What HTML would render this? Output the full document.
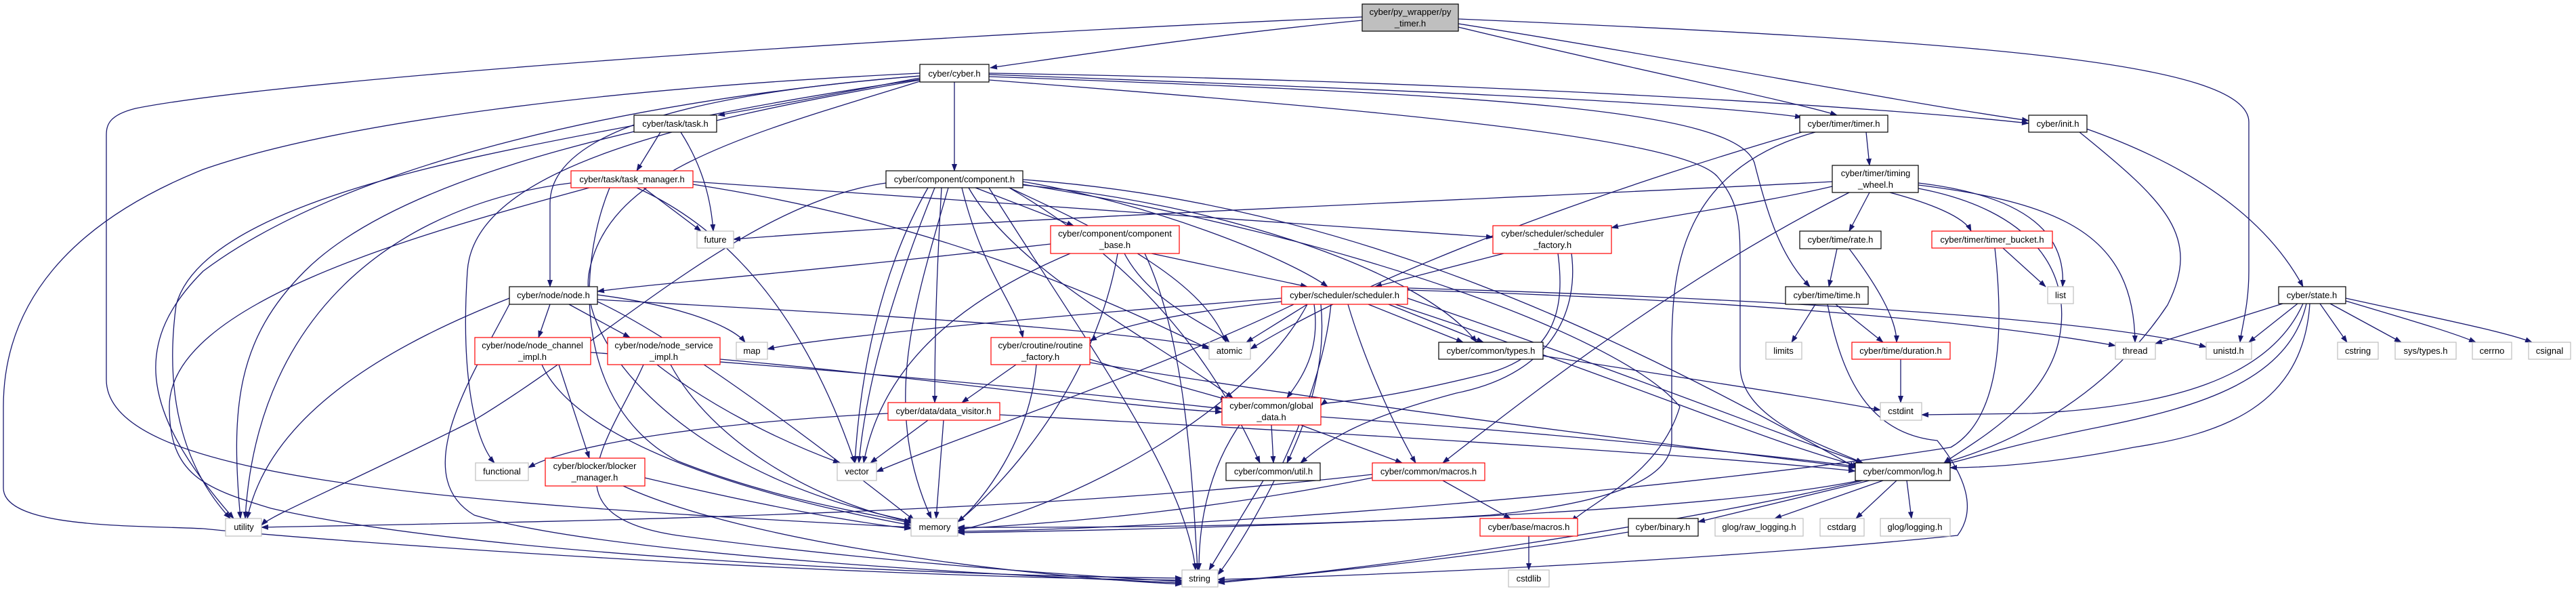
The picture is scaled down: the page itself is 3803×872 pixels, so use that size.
<!DOCTYPE html>
<html><head><meta charset="utf-8"><style>
html,body{margin:0;padding:0;background:#fff;}
svg{display:block;}
text{font-family:"Liberation Sans",sans-serif;font-size:13px;fill:#000;text-anchor:middle;}
.e{fill:none;stroke:#191970;stroke-width:1.3;marker-end:url(#a);}
.p{fill:#fff;stroke:#000;stroke-width:1.2;}
.r{fill:#fff;stroke:#ff0000;stroke-width:1.2;}
.g{fill:#fff;stroke:#bfbfbf;stroke-width:1.2;}
</style></head><body>
<svg width="3803" height="872" viewBox="0 0 3803 872" xmlns="http://www.w3.org/2000/svg">
<defs><marker id="a" markerUnits="userSpaceOnUse" markerWidth="11" markerHeight="8" refX="10" refY="4" orient="auto"><path d="M0,0 L11,4 L0,8 z" fill="#191970"/></marker></defs>
<g>
<path class="e" d="M2011,30 C1800,50 1600,80 1462,100"/>
<path class="e" d="M2153,40 C2400,100 2650,150 2712,170"/>
<path class="e" d="M2153,35 C2500,90 2800,150 2995,178"/>
<path class="e" d="M2153,28 C2900,60 3320,90 3320,180 L3320,400 C3320,450 3310,480 3307,505"/>
<path class="e" d="M2011,25 C1200,60 400,120 200,160 C160,170 157,185 157,200 L157,560 C157,700 600,740 1345,778"/>
<path class="e" d="M1358,108 C900,130 500,180 300,250 C100,330 5,450 5,600 L5,720 C5,780 200,775 300,780 C500,800 1200,850 1745,856"/>
<path class="e" d="M1358,115 C1250,135 1150,155 1060,170"/>
<path class="e" d="M1409,121 L1409,252"/>
<path class="e" d="M1460,110 C2000,130 2500,150 2660,173"/>
<path class="e" d="M1460,108 C2200,120 2800,160 2995,182"/>
<path class="e" d="M1460,113 C2200,140 2560,160 2590,240 C2610,320 2630,380 2672,423"/>
<path class="e" d="M1460,118 C2000,160 2480,200 2535,260 C2569,300 2569,330 2569,400 L2569,540 C2569,620 2700,660 2750,683"/>
<path class="e" d="M1358,112 C1000,140 812,200 812,300 L812,423"/>
<path class="e" d="M1358,112 C900,150 500,250 300,400 C200,500 200,600 345,765"/>
<path class="e" d="M1358,117 C1000,170 600,250 450,400 C350,500 340,600 355,765"/>
<path class="e" d="M1358,118 C1000,180 700,250 690,400 C680,550 700,650 730,683"/>
<path class="e" d="M1358,120 C1100,200 900,250 870,400 C850,500 1000,700 1350,770"/>
<path class="e" d="M975,195 L940,252"/>
<path class="e" d="M1005,195 C1040,250 1050,300 1053,341"/>
<path class="e" d="M936,185 C700,230 300,300 260,450 C240,600 280,700 340,765"/>
<path class="e" d="M950,277 L1035,341"/>
<path class="e" d="M1023,268 C1500,300 1900,330 2204,350"/>
<path class="e" d="M843,270 C600,300 380,450 362,765"/>
<path class="e" d="M870,277 C600,350 250,450 250,600 C250,700 300,720 400,750 C700,820 1400,850 1745,853"/>
<path class="e" d="M900,277 C850,400 850,600 1000,680 C1150,740 1300,760 1345,772"/>
<path class="e" d="M940,277 C1100,350 1200,500 1262,683"/>
<path class="e" d="M1023,272 C1400,330 1650,450 1785,515"/>
<path class="e" d="M1440,277 L1585,333"/>
<path class="e" d="M1510,268 C1700,300 1900,380 1960,423"/>
<path class="e" d="M1420,277 C1450,400 1500,450 1510,498"/>
<path class="e" d="M1390,277 C1380,450 1380,550 1380,594"/>
<path class="e" d="M1430,277 C1500,400 1700,500 1820,587"/>
<path class="e" d="M1380,277 C1330,400 1280,550 1268,683"/>
<path class="e" d="M1370,277 C1300,400 1270,550 1262,683"/>
<path class="e" d="M1400,277 C1350,450 1300,600 1375,765"/>
<path class="e" d="M1308,270 C1100,300 900,500 700,620 C500,720 400,760 386,775"/>
<path class="e" d="M1510,273 C1800,300 2100,400 2180,505"/>
<path class="e" d="M1510,265 C2000,300 2400,500 2740,690"/>
<path class="e" d="M1490,277 C1700,400 1800,550 1860,683"/>
<path class="e" d="M1460,277 C1600,500 1750,700 1765,841"/>
<path class="e" d="M1490,277 C1650,350 1780,420 1810,505"/>
<path class="e" d="M1510,272 C2000,350 2400,500 2480,600 C2450,700 2350,740 2320,770"/>
<path class="e" d="M1551,360 C1200,400 950,420 882,430"/>
<path class="e" d="M1700,374 L1930,423"/>
<path class="e" d="M1580,374 C1400,450 1300,550 1275,683"/>
<path class="e" d="M1650,374 C1620,550 1500,700 1414,770"/>
<path class="e" d="M1660,374 C1700,450 1790,480 1815,505"/>
<path class="e" d="M1690,374 C1750,500 1760,700 1768,841"/>
<path class="e" d="M2755,195 L2760,244"/>
<path class="e" d="M2660,195 C2300,300 2000,420 1846,515"/>
<path class="e" d="M2680,195 C2480,250 2470,400 2468,500 L2468,650 C2468,700 2400,740 2200,760 C1900,780 1500,778 1414,778"/>
<path class="e" d="M2705,268 C2300,290 1500,320 1083,353"/>
<path class="e" d="M2705,275 C2600,300 2450,320 2379,336"/>
<path class="e" d="M2760,284 L2730,341"/>
<path class="e" d="M2790,284 C2850,300 2900,320 2910,341"/>
<path class="e" d="M2832,270 C3000,290 3050,350 3045,423"/>
<path class="e" d="M2832,273 C3050,300 3150,350 3152,505"/>
<path class="e" d="M2832,278 C3000,310 3060,400 3040,500 C3020,600 2900,660 2870,683"/>
<path class="e" d="M2730,284 C2500,400 2300,550 2130,683"/>
<path class="e" d="M2220,374 L2030,423"/>
<path class="e" d="M2300,374 C2310,450 2300,520 2200,550 C2000,600 1960,590 1950,598"/>
<path class="e" d="M2320,374 C2330,450 2300,550 2150,580 C2000,620 1960,650 1920,683"/>
<path class="e" d="M1892,440 C1500,470 1200,500 1133,515"/>
<path class="e" d="M1930,449 L1840,505"/>
<path class="e" d="M1892,445 C1750,460 1650,480 1609,503"/>
<path class="e" d="M2020,449 L2160,505"/>
<path class="e" d="M2050,449 L2190,505"/>
<path class="e" d="M1940,449 C1950,520 1920,560 1900,587"/>
<path class="e" d="M1990,449 C2020,550 2070,650 2090,683"/>
<path class="e" d="M2078,440 C2400,550 2650,650 2750,683"/>
<path class="e" d="M2060,449 C2400,560 2600,650 2745,688"/>
<path class="e" d="M1930,449 C1850,600 1600,740 1414,783"/>
<path class="e" d="M1965,449 C1950,600 1850,780 1798,848"/>
<path class="e" d="M1910,449 C1700,550 1400,650 1294,696"/>
<path class="e" d="M2078,428 C2500,440 2900,470 3123,510"/>
<path class="e" d="M2078,425 C2600,440 3100,470 3257,512"/>
<path class="e" d="M1950,449 C1960,550 1920,640 1900,683"/>
<path class="e" d="M812,449 L795,498"/>
<path class="e" d="M840,449 L930,498"/>
<path class="e" d="M882,435 C1000,450 1080,480 1100,505"/>
<path class="e" d="M752,440 C600,500 400,600 365,765"/>
<path class="e" d="M882,445 C1000,500 1200,650 1350,768"/>
<path class="e" d="M752,449 C700,550 600,700 700,760 C900,820 1500,850 1745,860"/>
<path class="e" d="M882,442 C1200,460 1600,480 1785,512"/>
<path class="e" d="M825,538 L870,676"/>
<path class="e" d="M800,538 C850,650 1100,730 1345,775"/>
<path class="e" d="M872,520 C1300,550 1600,580 1804,603"/>
<path class="e" d="M970,538 C1050,600 1150,650 1240,683"/>
<path class="e" d="M990,538 C1050,650 1200,740 1345,770"/>
<path class="e" d="M950,538 C900,650 800,760 1000,790 C1300,830 1600,850 1745,858"/>
<path class="e" d="M1063,530 C1400,560 1650,600 1804,608"/>
<path class="e" d="M1500,538 L1420,594"/>
<path class="e" d="M1609,530 C1700,560 1780,580 1812,590"/>
<path class="e" d="M1530,538 C1520,650 1450,740 1414,770"/>
<path class="e" d="M1609,535 C2000,600 2500,660 2739,690"/>
<path class="e" d="M1370,620 L1285,683"/>
<path class="e" d="M1393,620 L1382,765"/>
<path class="e" d="M1311,610 C1100,620 850,650 780,690"/>
<path class="e" d="M1476,612 C2000,640 2500,670 2739,695"/>
<path class="e" d="M1877,627 L1880,683"/>
<path class="e" d="M1920,627 L2070,683"/>
<path class="e" d="M1830,627 C1780,700 1770,780 1770,841"/>
<path class="e" d="M1950,615 C2300,640 2600,670 2739,688"/>
<path class="e" d="M1865,709 L1785,841"/>
<path class="e" d="M2130,709 L2230,765"/>
<path class="e" d="M2026,700 C1500,760 800,770 386,778"/>
<path class="e" d="M2026,705 C1800,750 1600,770 1414,780"/>
<path class="e" d="M2257,791 L2257,841"/>
<path class="e" d="M2278,525 C2500,560 2700,590 2776,605"/>
<path class="e" d="M2680,449 L2645,505"/>
<path class="e" d="M2710,449 L2780,505"/>
<path class="e" d="M2712,367 L2700,423"/>
<path class="e" d="M2730,367 C2770,420 2800,470 2800,505"/>
<path class="e" d="M2698,449 C2720,560 2760,640 2860,650 C2900,700 2920,750 2890,790 C2500,830 2000,850 1798,855"/>
<path class="e" d="M2806,530 L2806,594"/>
<path class="e" d="M2957,366 L3020,423"/>
<path class="e" d="M2945,366 C2960,500 2950,620 2880,660 C2500,720 1800,780 1414,784"/>
<path class="e" d="M3080,190 C3250,250 3350,330 3400,423"/>
<path class="e" d="M3070,195 C3200,300 3250,350 3200,450 C3100,600 2950,660 2870,683"/>
<path class="e" d="M3370,448 L3182,507"/>
<path class="e" d="M3392,448 L3320,505"/>
<path class="e" d="M3425,448 L3465,505"/>
<path class="e" d="M3440,448 L3545,505"/>
<path class="e" d="M3463,444 C3550,470 3620,490 3655,505"/>
<path class="e" d="M3463,440 C3600,470 3700,490 3738,505"/>
<path class="e" d="M3405,448 C3380,560 3250,600 3100,630 C2950,660 2900,680 2870,685"/>
<path class="e" d="M3410,448 C3400,600 3280,640 3150,660 C3000,690 2900,690 2879,690"/>
<path class="e" d="M3400,448 C3350,560 3200,600 3000,610 L2837,612"/>
<path class="e" d="M2760,709 L2507,770"/>
<path class="e" d="M2780,709 L2620,765"/>
<path class="e" d="M2800,709 L2740,765"/>
<path class="e" d="M2815,709 L2822,765"/>
<path class="e" d="M2745,709 C2500,760 1800,780 1414,786"/>
<path class="e" d="M2750,709 C2500,770 2000,845 1798,858"/>
<path class="e" d="M2404,785 C2200,820 1900,850 1798,860"/>
<path class="e" d="M952,705 C1100,740 1250,770 1345,780"/>
<path class="e" d="M920,717 C1100,800 1500,850 1745,862"/>
</g>
<g>
<rect x="2011" y="6" width="142" height="40" fill="#bfbfbf" stroke="#000" stroke-width="1.2"/><text x="2082" y="22">cyber/py_wrapper/py</text><text x="2082" y="39">_timer.h</text>
<rect class="p" x="1358" y="95" width="102" height="26"/><text x="1409" y="113">cyber/cyber.h</text>
<rect class="p" x="936" y="170" width="122" height="25"/><text x="997" y="187">cyber/task/task.h</text>
<rect class="r" x="843" y="252" width="180" height="25"/><text x="933" y="269">cyber/task/task_manager.h</text>
<rect class="g" x="1029" y="341" width="54" height="25"/><text x="1056" y="358">future</text>
<rect class="p" x="1308" y="252" width="202" height="25"/><text x="1409" y="269">cyber/component/component.h</text>
<rect class="r" x="1551" y="333" width="190" height="41"/><text x="1646" y="349">cyber/component/component</text><text x="1646" y="366">_base.h</text>
<rect class="p" x="2657" y="170" width="130" height="25"/><text x="2722" y="187">cyber/timer/timer.h</text>
<rect class="p" x="2705" y="244" width="127" height="40"/><text x="2769" y="260">cyber/timer/timing</text><text x="2769" y="277">_wheel.h</text>
<rect class="r" x="2204" y="333" width="175" height="41"/><text x="2292" y="349">cyber/scheduler/scheduler</text><text x="2292" y="366">_factory.h</text>
<rect class="p" x="2657" y="341" width="120" height="26"/><text x="2717" y="358">cyber/time/rate.h</text>
<rect class="p" x="2636" y="423" width="122" height="26"/><text x="2697" y="440">cyber/time/time.h</text>
<rect class="r" x="1892" y="423" width="186" height="26"/><text x="1985" y="440">cyber/scheduler/scheduler.h</text>
<rect class="p" x="2995" y="170" width="86" height="25"/><text x="3038" y="187">cyber/init.h</text>
<rect class="r" x="2852" y="341" width="178" height="25"/><text x="2941" y="358">cyber/timer/timer_bucket.h</text>
<rect class="g" x="3023" y="423" width="38" height="25"/><text x="3042" y="440">list</text>
<rect class="p" x="3364" y="423" width="99" height="25"/><text x="3413" y="440">cyber/state.h</text>
<rect class="p" x="752" y="423" width="130" height="26"/><text x="817" y="440">cyber/node/node.h</text>
<rect class="r" x="701" y="498" width="171" height="40"/><text x="786" y="514">cyber/node/node_channel</text><text x="786" y="531">_impl.h</text>
<rect class="r" x="897" y="498" width="166" height="40"/><text x="980" y="514">cyber/node/node_service</text><text x="980" y="531">_impl.h</text>
<rect class="g" x="702" y="683" width="78" height="26"/><text x="741" y="700">functional</text>
<rect class="r" x="805" y="676" width="147" height="41"/><text x="878" y="692">cyber/blocker/blocker</text><text x="878" y="709">_manager.h</text>
<rect class="g" x="333" y="765" width="53" height="26"/><text x="360" y="782">utility</text>
<rect class="g" x="1087" y="505" width="46" height="25"/><text x="1110" y="522">map</text>
<rect class="r" x="1463" y="498" width="146" height="40"/><text x="1536" y="514">cyber/croutine/routine</text><text x="1536" y="531">_factory.h</text>
<rect class="g" x="1785" y="505" width="61" height="25"/><text x="1815" y="522">atomic</text>
<rect class="r" x="1311" y="594" width="165" height="26"/><text x="1393" y="611">cyber/data/data_visitor.h</text>
<rect class="r" x="1804" y="587" width="146" height="40"/><text x="1877" y="603">cyber/common/global</text><text x="1877" y="620">_data.h</text>
<rect class="g" x="1236" y="683" width="58" height="26"/><text x="1265" y="700">vector</text>
<rect class="p" x="1810" y="683" width="139" height="26"/><text x="1880" y="700">cyber/common/util.h</text>
<rect class="g" x="1345" y="765" width="69" height="26"/><text x="1380" y="782">memory</text>
<rect class="g" x="1745" y="841" width="53" height="25"/><text x="1771" y="858">string</text>
<rect class="p" x="2124" y="505" width="154" height="25"/><text x="2201" y="522">cyber/common/types.h</text>
<rect class="g" x="2607" y="505" width="53" height="25"/><text x="2633" y="522">limits</text>
<rect class="r" x="2734" y="505" width="145" height="25"/><text x="2806" y="522">cyber/time/duration.h</text>
<rect class="g" x="2776" y="594" width="61" height="26"/><text x="2806" y="611">cstdint</text>
<rect class="r" x="2026" y="683" width="166" height="26"/><text x="2109" y="700">cyber/common/macros.h</text>
<rect class="p" x="2739" y="683" width="140" height="26"/><text x="2809" y="700">cyber/common/log.h</text>
<rect class="r" x="2185" y="765" width="144" height="26"/><text x="2257" y="782">cyber/base/macros.h</text>
<rect class="p" x="2404" y="765" width="103" height="26"/><text x="2455" y="782">cyber/binary.h</text>
<rect class="g" x="2532" y="765" width="130" height="26"/><text x="2597" y="782">glog/raw_logging.h</text>
<rect class="g" x="2687" y="765" width="65" height="26"/><text x="2719" y="782">cstdarg</text>
<rect class="g" x="2776" y="765" width="103" height="26"/><text x="2827" y="782">glog/logging.h</text>
<rect class="g" x="2227" y="841" width="60" height="25"/><text x="2257" y="858">cstdlib</text>
<rect class="g" x="3123" y="505" width="59" height="25"/><text x="3152" y="522">thread</text>
<rect class="g" x="3257" y="505" width="67" height="25"/><text x="3290" y="522">unistd.h</text>
<rect class="g" x="3451" y="505" width="60" height="25"/><text x="3481" y="522">cstring</text>
<rect class="g" x="3536" y="505" width="90" height="25"/><text x="3581" y="522">sys/types.h</text>
<rect class="g" x="3650" y="505" width="58" height="25"/><text x="3679" y="522">cerrno</text>
<rect class="g" x="3733" y="505" width="62" height="25"/><text x="3764" y="522">csignal</text>
</g>
</svg>
</body></html>
